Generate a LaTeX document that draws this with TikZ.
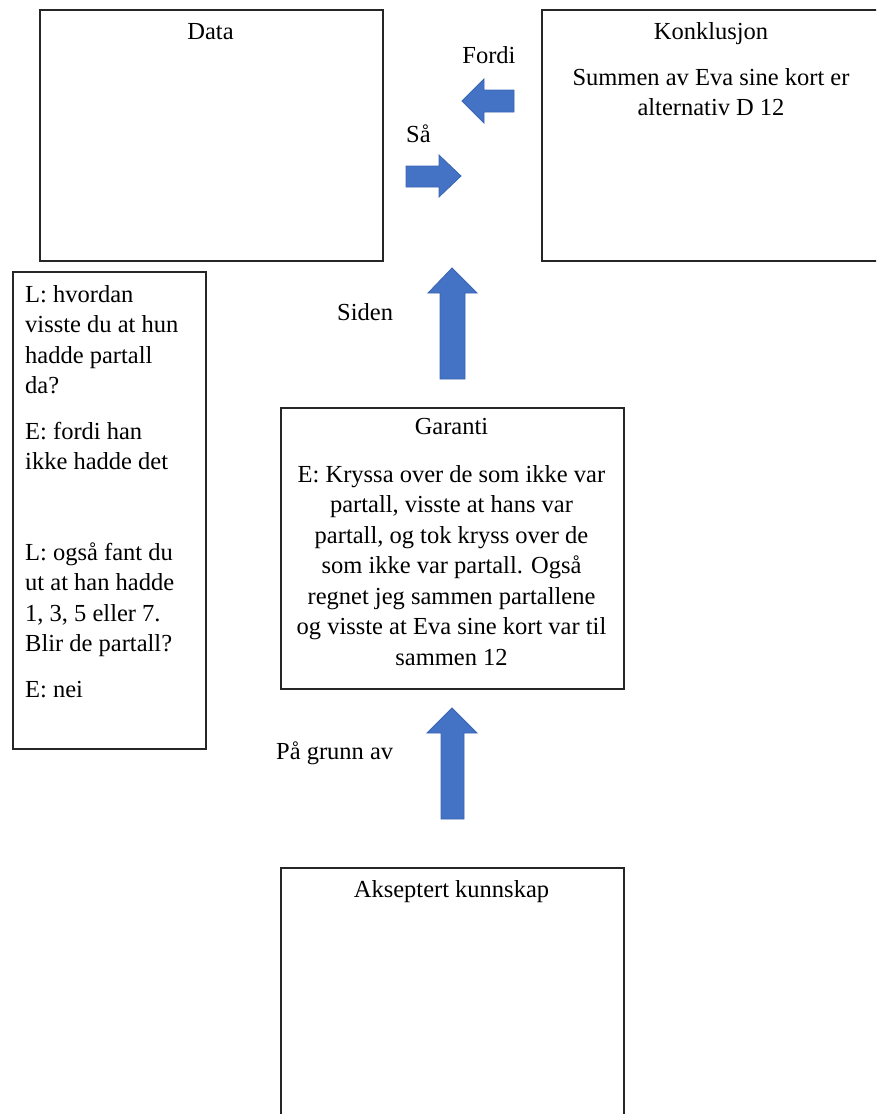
\documentclass[tikz,border=0pt]{standalone}
\usepackage{fontspec}
\setmainfont{Liberation Serif}
\definecolor{arrowblue}{HTML}{4472C4}
\definecolor{arrowedge}{HTML}{3B66B4}
\definecolor{boxline}{HTML}{262626}

\begin{document}
\begin{tikzpicture}[x=1pt,y=-1pt,
  box/.style={draw=boxline, line width=1.8pt, fill=white, anchor=north west, inner sep=0pt},
  txt/.style={inner sep=0pt, font=\fontsize{24.5}{30.5}\selectfont},
  title/.style={txt, anchor=base},
  body/.style={txt, align=center, anchor=base},
  talk/.style={txt, align=left, anchor=base west},
  blockarrow/.style={fill=arrowblue, draw=arrowedge, line width=0.8pt, line join=miter}]

\useasboundingbox (0,0) rectangle (876,1114);
\clip (0,0) rectangle (876,1114);

% the five boxes of the argument scheme
\node[box, minimum width=343pt, minimum height=251pt] (data) at (39,9) {};
\node[box, minimum width=340pt, minimum height=251pt] (konk) at (541,9) {};
\node[box, minimum width=193pt, minimum height=477pt] (dialog) at (12,271) {};
\node[box, minimum width=343pt, minimum height=281pt] (garanti) at (280,407) {};
\node[box, minimum width=343pt, minimum height=300pt] (kunnskap) at (280,867) {};

% headings
\node[title] (dataT) at (210.5,39) {Data};
\node[title] (konkT) at (711,39) {Konklusjon};
\node[title] (garantiT) at (451.5,434) {Garanti};
\node[title] (kunnskapT) at (451.5,897) {Akseptert kunnskap};

% box contents (multi-line nodes sit on the baseline of their last line)
\node[body] (konkB) at (711,115.5) {Summen av Eva sine kort er\\alternativ D 12};
\node[body] (garantiB) at (451.5,665) {E: Kryssa over de som ikke var\\partall, visste at hans var\\partall, og tok kryss over de\\som ikke var partall. Også\\regnet jeg sammen partallene\\og visste at Eva sine kort var til\\sammen 12};

\node[talk] (q1) at (25,393.5) {L: hvordan\\visste du at hun\\hadde partall\\da?};
\node[talk] (a1) at (25,469.5) {E: fordi han\\ikke hadde det};
\node[talk] (q2) at (25,651.5) {L: også fant du\\ut at han hadde\\1, 3, 5 eller 7.\\Blir de partall?};
\node[talk] (a2) at (25,697) {E: nei};

% block arrows and their words
\draw[blockarrow] (514,90) -- (484,90) -- (484,79) -- (462,101) -- (484,123) -- (484,112) -- (514,112) -- cycle;
\node[title] (fordi) at (489,63) {Fordi};

\draw[blockarrow] (406,166) -- (439,166) -- (439,155) -- (461,176) -- (439,197) -- (439,187) -- (406,187) -- cycle;
\node[txt, anchor=base west] (saa) at (406,142) {Så};

\draw[blockarrow] (440,379) -- (440,293) -- (428,293) -- (452,268) -- (477,293) -- (465,293) -- (465,379) -- cycle;
\node[txt, anchor=base west] (siden) at (337,320) {Siden};

\draw[blockarrow] (441,819) -- (441,733) -- (427,733) -- (452,708) -- (477,733) -- (464,733) -- (464,819) -- cycle;
\node[txt, anchor=base west] (grunn) at (276,759) {På grunn av};
\end{tikzpicture}
\end{document}
